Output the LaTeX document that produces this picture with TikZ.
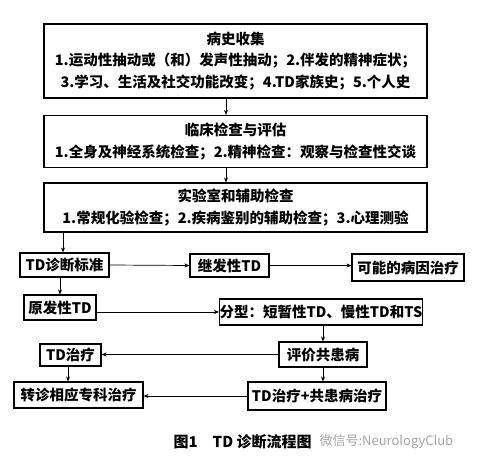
\documentclass[tikz,border=0pt]{standalone}
\usepackage{fontspec}
\newfontfamily\cjk{Noto Sans CJK SC}
\usetikzlibrary{arrows.meta}
\begin{document}
\begin{tikzpicture}[x=1pt,y=-1pt,
  box/.style={draw, line width=1.1pt, inner sep=0pt, font=\cjk\bfseries\fontsize{14.5}{21.5}\selectfont, align=center},
  arr/.style={line width=0.7pt, -{Stealth[length=5pt,width=4pt]}}]
\useasboundingbox (0,0) rectangle (490,468);
\fill[white] (0,0) rectangle (490,468);
% big boxes
\node[box, minimum width=383pt, minimum height=74pt] (b1) at (235.5,61)
  {病史收集\\1.运动性抽动或（和）发声性抽动；2.伴发的精神症状；\\3.学习、生活及社交功能改变；4.TD家族史；5.个人史};
\node[box, minimum width=383pt, minimum height=52pt] (b2) at (235.5,141.5)
  {临床检查与评估\\1.全身及神经系统检查；2.精神检查：观察与检查性交谈};
\node[box, minimum width=383pt, minimum height=49pt] (b3) at (235.5,207.5)
  {实验室和辅助检查\\1.常规化验检查；2.疾病鉴别的辅助检查；3.心理测验};
% small boxes
\node[box, minimum width=89pt, minimum height=24pt] (std) at (64.5,265) {TD诊断标准};
\node[box, minimum width=79pt, minimum height=23pt] (sec) at (229.5,265.5) {继发性TD};
\node[box, minimum width=112pt, minimum height=27pt] (cause) at (408,267.5) {可能的病因治疗};
\node[box, minimum width=72pt, minimum height=25pt] (prim) at (60,307.5) {原发性TD};
\node[box, minimum width=200pt, minimum height=26pt] (type) at (321,312) {分型：短暂性TD、慢性TD和TS};
\node[box, minimum width=61pt, minimum height=22pt] (tdt) at (70.5,355) {TD治疗};
\node[box, minimum width=88pt, minimum height=25pt] (com) at (323,354.5) {评价共患病};
\node[box, minimum width=129pt, minimum height=26pt] (ref) at (78.5,395) {转诊相应专科治疗};
\node[box, minimum width=138pt, minimum height=28pt] (both) at (317,396) {TD治疗+共患病治疗};
% guide coordinates
\coordinate (xa) at (226,0);
\coordinate (xb) at (63,0);
\coordinate (xc) at (60,0);
\coordinate (xd) at (68,0);
% arrows
\draw[arr] (b1.south -| xa) -- (b2.north -| xa);
\draw[arr] (b2.south -| xa) -- (b3.north -| xa);
\draw[arr] (b3.south -| xb) -- (std.north -| xb);
\draw[arr] (std.east) -- (sec.west);
\draw[arr] (sec.east) -- (cause.west |- sec.east);
\draw[arr] (std.south -| xc) -- (prim.north -| xc);
\draw[arr] (type.west -| prim.east) -- (type.west);
\draw[arr] (com.north |- type.south) -- (com.north);
\draw[arr] (com.west) -- (tdt.east |- com.west);
\draw[arr] (tdt.south -| xd) -- (ref.north -| xd);
\draw[arr] (com.south) -- (both.north -| com.south);
\draw[arr] (both.west) -- (ref.east |- both.west);
% caption and watermark
\node[font=\cjk\bfseries\fontsize{15}{17}\selectfont, anchor=west] (cap) at (170,442) {图1\quad TD 诊断流程图};
\node[font=\cjk\fontsize{13}{15}\selectfont, text=black!35, anchor=west] (wm) at (316,442) {微信号:NeurologyClub};
\end{tikzpicture}
\end{document}
